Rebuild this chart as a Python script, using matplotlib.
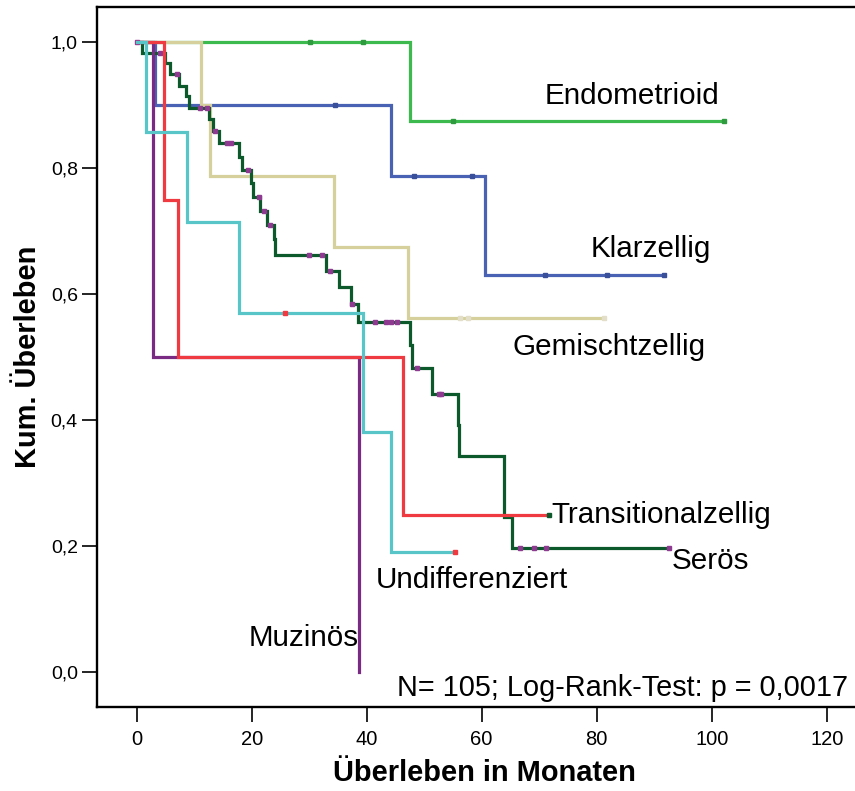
import matplotlib
matplotlib.use('Agg')
import matplotlib.pyplot as plt
import numpy as np

plt.rcParams['font.family'] = ['Liberation Sans', 'DejaVu Sans']

# ---------------- data ----------------
groups = ['Endometrioid', 'Klarzellig', 'Gemischtzellig', 'Serös',
          'Muzinös', 'Transitionalzellig', 'Undifferenziert']

# step times (first = 0) and survival after each step; last entry = end of follow-up
endo_t = [0, 47.5, 102.1]
endo_s = [1.0, 0.875, 0.875]
endo_c = [30.1, 39.4, 55.0, 102.1]

klar_t = [0, 3.2, 44.2, 60.6, 91.7]
klar_s = [1.0, 0.9, 0.7875, 0.63, 0.63]
klar_c = [34.5, 48.3, 58.4, 71.0, 81.8, 91.7]

gem_t = [0, 11.1, 12.8, 34.4, 47.1, 81.3]
gem_s = [1.0, 0.9, 0.7875, 0.675, 0.5625, 0.5625]
gem_c = [56.2, 57.6, 81.3]

ser_t = [0, 1.0, 5.0, 5.8, 7.4, 8.5, 9.1, 12.6, 13.2, 14.4, 17.85, 18.3, 19.9,
         20.3, 21.45, 22.6, 23.9, 24.1, 32.9, 35.1, 37.3, 38.5, 47.6, 47.8,
         51.3, 55.9, 56.0, 63.8, 63.9, 65.3, 92.6]
ser_s = [1.0, 0.9825, 0.9667, 0.949, 0.931, 0.914, 0.895, 0.878, 0.859, 0.840,
         0.818, 0.798, 0.776, 0.755, 0.733, 0.710, 0.687, 0.662, 0.637, 0.611,
         0.584, 0.5565, 0.52, 0.4825, 0.4417, 0.3925, 0.3433, 0.2946, 0.247,
         0.1968, 0.1968]
ser_c = [4.05, 6.96, 11.0, 12.2, 13.6, 15.65, 16.35, 19.3, 21.2, 22.1, 23.2,
         30.0, 32.2, 33.6, 37.4, 41.4, 43.4, 44.2, 45.2, 48.8, 52.5, 53.0,
         66.7, 69.1, 71.2, 92.6]

muz_t = [0, 2.8, 38.7, 38.7]
muz_s = [1.0, 0.5, 0.0, 0.0]
muz_c = [0.0]

trans_t = [0, 4.8, 7.2, 46.3, 71.7]
trans_s = [1.0, 0.75, 0.5, 0.25, 0.25]
trans_c = [71.7]

undiff_t = [0, 1.6, 8.8, 17.8, 39.4, 44.2, 55.4]
undiff_s = [1.0, 0.857, 0.714, 0.571, 0.381, 0.1905, 0.1905]
undiff_c = [25.8, 55.4]

x_ticks = [0, 20, 40, 60, 80, 100, 120]
y_ticks = [0.0, 0.2, 0.4, 0.6, 0.8, 1.0]
y_ticklabels = ['0,0', '0,2', '0,4', '0,6', '0,8', '1,0']
note = 'N= 105; Log-Rank-Test: p = 0,0017'

# ---------------- styling ----------------
series = [
    # (times, surv, censors, line colour, censor colour, zorder)
    (endo_t, endo_s, endo_c, '#3dba4e', '#2e9c3e', 2),
    (klar_t, klar_s, klar_c, '#4a62b4', '#3a4f9a', 3),
    (gem_t, gem_s, gem_c, '#d6d19c', '#e2dec8', 4),
    (ser_t, ser_s, ser_c, '#0c5a2c', '#8e3a91', 5),
    (muz_t, muz_s, muz_c, '#7a2a82', '#8e3a91', 6),
    (trans_t, trans_s, trans_c, '#ef3a42', '#0c5a2c', 7),
    (undiff_t, undiff_s, undiff_c, '#58c6c9', '#ef3a42', 8),
]

labels = [
    ('Endometrioid', 71.0, 0.915),
    ('Klarzellig', 79.0, 0.672),
    ('Gemischtzellig', 65.4, 0.516),
    ('Transitionalzellig', 72.1, 0.250),
    ('Serös', 93.0, 0.176),
    ('Undifferenziert', 41.5, 0.147),
    ('Muzinös', 19.4, 0.055),
]

fig = plt.figure(figsize=(8.55, 7.91), dpi=100)
ax = fig.add_axes([97/855, 1-706.7/791, (872.7-97)/855, 700/791])

for t, s, c, col, ccol, z in series:
    ax.step(t, s, where='post', color=col, lw=2.3, zorder=z,
            solid_joinstyle='miter')
    t_arr = np.asarray(t)
    s_arr = np.asarray(s)
    cy = [s_arr[np.searchsorted(t_arr, ct, side='right') - 1] for ct in c]
    ax.plot(c, cy, ls='none', marker='s', ms=2.3, mec=ccol, mfc=ccol,
            zorder=z + 0.5)

for txt, x, y in labels:
    ax.text(x, y, txt, fontsize=21.3, ha='left', va='center', color='black',
            zorder=10)
ax.text(45.3, -0.025, note, fontsize=20.8, ha='left', va='center',
        color='black', zorder=10)

ax.set_xlim(-6.9, 128)
ax.set_ylim(-0.0546, 1.0565)
ax.set_xticks(x_ticks)
ax.set_xticklabels([str(v) for v in x_ticks])
ax.set_yticks(y_ticks)
ax.set_yticklabels(y_ticklabels)
ax.tick_params(axis='both', direction='out', length=10.8, width=1.2,
               color='black')
ax.tick_params(axis='x', labelsize=14.5, pad=6)
ax.tick_params(axis='y', labelsize=14, pad=3)
for sp in ax.spines.values():
    sp.set_linewidth(1.7)
    sp.set_color('black')

ax.set_xlabel('Überleben in Monaten', fontsize=20.9, fontweight='bold',
              labelpad=7)
ax.set_ylabel('Kum. Überleben', fontsize=20.9, fontweight='bold', labelpad=6)

fig.savefig('out.png', dpi=100)
